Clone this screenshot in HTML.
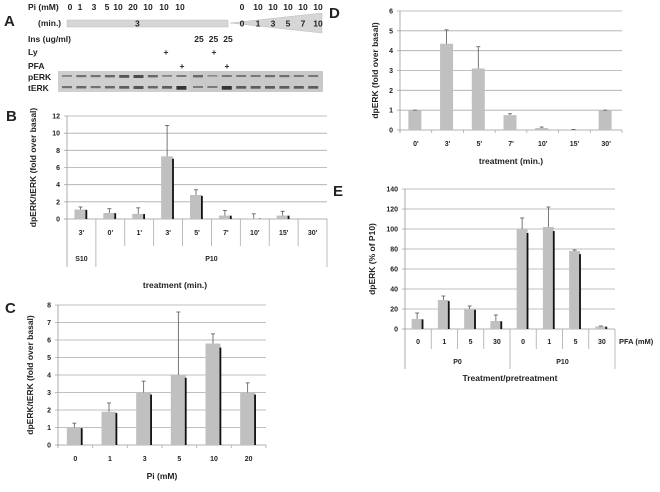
<!DOCTYPE html>
<html><head><meta charset="utf-8"><style>
body{margin:0;background:#fff;font-family:"Liberation Sans",sans-serif;}
svg text{font-family:"Liberation Sans",sans-serif;font-weight:bold;fill:#222;}
</style></head><body>
<svg id="fig" width="660" height="487" viewBox="0 0 660 487" xmlns="http://www.w3.org/2000/svg">
<g id="panelA" font-size="8.5">
<text x="4" y="26" font-size="15">A</text>
<text x="28" y="10">Pi (mM)</text>
<text x="38" y="26">(min.)</text>
<rect x="67" y="20" width="161" height="7" fill="#d6d6d6" stroke="#bbb" stroke-width="0.5"/>
<text x="135" y="26.5">3</text>
<polygon points="230,23 322,13 322,33" fill="#d6d6d6" stroke="#bbb" stroke-width="0.5"/>
<text x="28" y="42">Ins (ug/ml)</text>
<text x="28" y="55">Ly</text>
<text x="166" y="55" text-anchor="middle">+</text>
<text x="214" y="55" text-anchor="middle">+</text>
<text x="28" y="69">PFA</text>
<text x="182" y="69" text-anchor="middle">+</text>
<text x="227" y="69" text-anchor="middle">+</text>
<text x="28" y="80">pERK</text>
<text x="28" y="91">tERK</text>
<rect x="58" y="71" width="132" height="21" fill="#cfcfcf"/>
<rect x="190" y="71" width="133" height="21" fill="#c9c9c9"/>
<g id="bands"></g>
</g>
<g id="charts"></g>
<text x="6" y="121" font-size="15">B</text>
<text x="5" y="313" font-size="15">C</text>
<text x="329" y="18" font-size="15">D</text>
<text x="333" y="196" font-size="15">E</text>
</svg>
<script>
// Panel A labels
const piLeft=["0","1","3","5","10","20","10","10","10"];
const piRight=["0","10","10","10","10","10"];
const timeRight=["0","1","3","5","7","10"];
const insVals=["25","25","25"];
// Panel B data
const bCats=["3'","0'","1'","3'","5'","7'","10'","15'","30'"];
const bVals=[1.1,0.7,0.6,7.3,2.8,0.4,0.05,0.4,0];
const bErr=[1.4,1.2,1.3,10.9,3.4,1.0,0.6,0.9,0];
const bTicks=[0,2,4,6,8,10,12];
// Panel C data
const cCats=["0","1","3","5","10","20"];
const cVals=[1,1.9,3,4,5.8,3];
const cErr=[1.25,2.4,3.65,7.6,6.35,3.55];
const cTicks=[0,1,2,3,4,5,6,7,8];
// Panel D data
const dCats=["0'","3'","5'","7'","10'","15'","30'"];
const dVals=[1,4.35,3.1,0.75,0.1,0.02,1];
const dErr=[1,5.05,4.2,0.82,0.15,0.03,1];
const dTicks=[0,1,2,3,4,5,6];
// Panel E data
const eCats=["0","1","5","30","0","1","5","30"];
const eVals=[10,29,20,8,100,102,78,2.5];
const eErr=[16,33,23,14,111,122,79,3];
const eTicks=[0,20,40,60,80,100,120,140];
// Blot band intensities
const pBands=[0.3,0.5,0.5,0.6,0.8,0.9,0.6,0.3,0.4,0.6,0.2,0.4,0.4,0.4,0.5,0.5,0.4,0.4];
const tBands=[0.4,0.5,0.4,0.5,0.6,0.7,0.5,0.6,1.0,0.3,0.3,1.0,0.6,0.6,0.6,0.6,0.6,0.6];

const NS="http://www.w3.org/2000/svg";
function mk(tag,attrs,parent){const e=document.createElementNS(NS,tag);for(const k in attrs)e.setAttribute(k,attrs[k]);parent.appendChild(e);return e;}

const pA=document.getElementById('panelA');
const piLeftX=[70,80,94,107,118,133,148,164,180];
const piRightX=[242,258,273,288,303,318];
piLeft.forEach((v,i)=>{
  const t=mk('text',{x:piLeftX[i],y:10,'text-anchor':'middle'},pA);t.textContent=v;
  
  
});
piRight.forEach((v,i)=>{
  const t=mk('text',{x:piRightX[i],y:10,'text-anchor':'middle'},pA);t.textContent=v;
  
  
});
timeRight.forEach((v,i)=>{
  const t=mk('text',{x:piRightX[i],y:26.5,'text-anchor':'middle'},pA);t.textContent=v;
  
  
});
insVals.forEach((v,i)=>{
  const t=mk('text',{x:199+i*14.5,y:42,'text-anchor':'middle'},pA);t.textContent=v;
  
  
});

const bands=document.getElementById('bands');
pBands.forEach((v,i)=>{
  const x=i<9?62+i*14.3:193+(i-9)*14.4;
  const r=mk('rect',{x:x,y:75,width:10,height:1.2+v*2,fill:'#333','fill-opacity':0.3+v*0.6},bands);
  
  
});
tBands.forEach((v,i)=>{
  const x=i<9?62+i*14.3:193+(i-9)*14.4;
  const r=mk('rect',{x:x,y:86,width:10,height:1.2+v*2.5,fill:'#222','fill-opacity':0.3+v*0.6},bands);
  
  
});

const root=document.getElementById('charts');
function chart(o){
  const g=mk('g',{},root);
  
  
  const max=o.ticks[o.ticks.length-1];
  const ys=v=>o.y0-(v/max)*(o.y0-o.y1);
  const n=o.cats.length,cw=(o.x1-o.x0)/n;
  const xs=i=>o.x0+cw*i;
  o.ticks.forEach(t=>{
    const l=mk('line',{x1:o.x0-3,x2:o.x1,y1:ys(t),y2:ys(t),stroke:t===0?'#999':'#aaa','stroke-width':0.8},g);
    
    
    const tx=mk('text',{x:o.x0-7,y:ys(t)+2.5,'text-anchor':'end','font-size':7},g);
    tx.textContent=t;
    
    
  });
  const ax=mk('line',{x1:o.x0,x2:o.x0,y1:o.y1,y2:o.sepBottom||o.y0+3,stroke:'#999','stroke-width':0.8},g);
  
  
  for(let i=1;i<=n;i++){
    const s=mk('line',{x1:xs(i),x2:xs(i),y1:o.y0,y2:o.catSep?o.catSep:o.y0+3,stroke:'#aaa','stroke-width':0.8},g);
    
    
  }
  o.cats.forEach((c,i)=>{
    const cx=xs(i)+cw/2;
    const v=o.vals[i],e=o.err[i];
    const bw=o.bw;
    const bx=cx-bw/2-1;
    if(v>0){
      const r=mk('rect',{x:bx,y:ys(v),width:bw,height:o.y0-ys(v),fill:'#c0c0c0'},g);
      
      
      if(o.edge){
        const ed=mk('rect',{x:bx+bw-1,y:ys(v*0.96),width:1.8,height:o.y0-ys(v*0.96),fill:'#111'},g);
        
        
      }
    }
    if(e>0){
      const ex=bx+bw/2;
      const el=mk('line',{x1:ex,x2:ex,y1:ys(v),y2:ys(e),stroke:'#555','stroke-width':0.8},g);
      
      
      const ec=mk('line',{x1:ex-2,x2:ex+2,y1:ys(e),y2:ys(e),stroke:'#555','stroke-width':0.8},g);
      
      
    }
    const t=mk('text',{x:cx,y:o.labelY,'text-anchor':'middle','font-size':7},g);
    t.textContent=c;
    
    
  });
  const xt=mk('text',{x:o.xtX,y:o.xtY,'text-anchor':'middle','font-size':8.5},g);
  xt.textContent=o.xtitle;
  
  
  const cy=(o.y0+o.y1)/2;
  const yt=mk('text',{x:o.ytX,y:cy,'text-anchor':'middle','font-size':8.5,transform:`rotate(-90 ${o.ytX} ${cy})`},g);
  yt.textContent=o.ytitle;
  
  
  return {g,xs,cw};
}
const B=chart({name:'panel-b-chart',cats:bCats,vals:bVals,err:bErr,ticks:bTicks,x0:67,x1:327,y0:219,y1:116,bw:12,edge:true,labelY:235,catSep:246,sepBottom:267,xtitle:'treatment (min.)',xtX:175,xtY:288,ytitle:'dpERK/tERK (fold over basal)',ytX:36});
[[0,1,'S10'],[1,9,'P10']].forEach(([a,b,l],k)=>{
  const t=mk('text',{x:(B.xs(a)+B.xs(b))/2,y:261,'text-anchor':'middle','font-size':7},B.g);
  t.textContent=l;
  
  
  const s=mk('line',{x1:B.xs(b),x2:B.xs(b),y1:246,y2:267,stroke:'#aaa','stroke-width':0.8},B.g);
  
  
});
chart({name:'panel-c-chart',cats:cCats,vals:cVals,err:cErr,ticks:cTicks,x0:58,x1:266,y0:445,y1:305,bw:15,edge:true,labelY:461,xtitle:'Pi (mM)',xtX:162,xtY:479,ytitle:'dpERK/tERK (fold over basal)',ytX:33});
chart({name:'panel-d-chart',cats:dCats,vals:dVals,err:dErr,ticks:dTicks,x0:400,x1:622,y0:130,y1:11,bw:13,edge:false,labelY:146,xtitle:'treatment (min.)',xtX:511,xtY:164,ytitle:'dpERK (fold over basal)',ytX:378});
const E=chart({name:'panel-e-chart',cats:eCats,vals:eVals,err:eErr,ticks:eTicks,x0:405,x1:615,y0:329,y1:189,bw:11,edge:true,labelY:344,catSep:349,sepBottom:369,xtitle:'Treatment/pretreatment',xtX:510,xtY:381,ytitle:'dpERK (% of P10)',ytX:375});
[[0,4,'P0'],[4,8,'P10']].forEach(([a,b,l])=>{
  const t=mk('text',{x:(E.xs(a)+E.xs(b))/2,y:364,'text-anchor':'middle','font-size':7},E.g);
  t.textContent=l;
  
  
  const s=mk('line',{x1:E.xs(b),x2:E.xs(b),y1:349,y2:369,stroke:'#aaa','stroke-width':0.8},E.g);
  
  
});
const pf=mk('text',{x:619,y:344,'font-size':7.5},E.g);
pf.textContent='PFA (mM)';


</script>
</body></html>
